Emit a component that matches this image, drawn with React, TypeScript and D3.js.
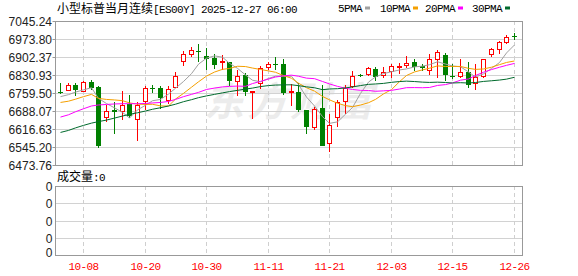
import React from "react";
import * as d3 from "d3";

const dates = [
  "10-03","10-06","10-07","10-08","10-09","10-10","10-13","10-14","10-15","10-16",
  "10-17","10-20","10-21","10-22","10-23","10-24","10-27","10-28","10-29","10-30",
  "10-31","11-03","11-04","11-05","11-06","11-07","11-10","11-11","11-12","11-13",
  "11-14","11-17","11-18","11-19","11-20","11-21","11-24","11-25","11-26","11-27",
  "11-28","12-01","12-02","12-03","12-04","12-05","12-08","12-09","12-10","12-11",
  "12-12","12-15","12-16","12-17","12-18","12-19","12-22","12-23","12-24","12-26",
];

const opens = [
  6764,6770,6790,6766,6802,6783,6663,6691,6687,6717,
  6658,6726,6781,6778,6732,6782,6885,6914,6928,6905,
  6900,6883,6881,6808,6831,6762,6798,6864,6874,6873,
  6763,6762,6692,6626,6700,6563,6663,6729,6787,6831,
  6834,6855,6831,6847,6863,6871,6884,6868,6851,6893,
  6910,6828,6828,6844,6799,6828,6914,6933,6961,6984,
];
const highs = [
  6798,6798,6800,6807,6811,6787,6712,6722,6767,6750,
  6722,6786,6790,6786,6787,6842,6926,6943,6953,6939,
  6916,6910,6884,6850,6840,6767,6866,6884,6901,6896,
  6795,6798,6692,6704,6791,6676,6733,6791,6847,6835,
  6864,6864,6861,6876,6878,6905,6896,6875,6913,6931,
  6917,6873,6894,6882,6874,6894,6938,6966,6990,6996,
];
const lows = [
  6755,6767,6749,6762,6771,6540,6643,6595,6654,6659,
  6570,6692,6761,6695,6715,6778,6868,6904,6884,6851,
  6853,6851,6787,6748,6748,6658,6775,6851,6851,6752,
  6708,6683,6595,6613,6550,6524,6626,6675,6780,6824,
  6827,6808,6818,6820,6835,6860,6847,6847,6830,6820,
  6808,6815,6820,6778,6773,6820,6902,6916,6955,6970,
];
const closes = [
  6761,6790,6770,6802,6779,6550,6687,6685,6712,6667,
  6711,6779,6775,6738,6774,6826,6913,6930,6926,6894,
  6871,6887,6808,6827,6762,6767,6857,6873,6872,6761,
  6766,6692,6626,6695,6550,6632,6722,6778,6828,6829,
  6857,6824,6844,6865,6865,6877,6864,6860,6893,6923,
  6832,6826,6844,6790,6823,6894,6934,6961,6980,6982,
];

const ma5 = [
  6745,6753,6763,6772,6780.4,6738.2,6717.6,6700.6,6682.6,6660.2,
  6692.4,6710.8,6728.8,6734,6755.4,6778.4,6805.2,6836.2,6873.8,6897.8,
  6906.8,6901.6,6877.2,6857.4,6831,6810.2,6804.2,6817.2,6826.2,6826,
  6825.8,6792.8,6743.4,6708,6665.8,6639,6645,6675.4,6702,6757.8,
  6802.8,6823.2,6836.4,6843.8,6851,6855,6863,6866.2,6871.8,6883.4,
  6874.4,6866.8,6863.6,6843,6823,6835.4,6857,6880.4,6918.4,6950.2,
];
const ma10 = [
  6722,6727,6735,6745,6754,6738,6734,6732,6729,6720.3,
  6715.3,6714.2,6714.7,6708.3,6707.8,6735.4,6758,6782.5,6803.9,6826.6,
  6842.6,6853.4,6856.7,6865.6,6864.4,6858.5,6852.9,6847.2,6841.8,6828.5,
  6818,6798.5,6780.3,6767.1,6745.9,6732.4,6718.9,6709.4,6705,6711.8,
  6720.9,6734.1,6755.9,6772.9,6804.4,6828.9,6843.1,6851.3,6857.8,6867.2,
  6864.7,6864.9,6864.9,6857.4,6853.2,6854.9,6861.9,6872,6880.7,6886.6,
];
const ma20 = [
  6664,6673,6685,6697,6708,6712,6714,6716,6717,6717,
  6717,6718,6720,6722,6726,6734,6745,6754,6762,6773.5,
  6779,6783.8,6785.7,6787,6786.1,6797,6805.5,6814.9,6822.9,6827.6,
  6830.3,6826,6818.5,6816.4,6805.2,6795.5,6785.9,6778.3,6773.4,6770.2,
  6769.5,6766.3,6768.1,6770,6775.2,6780.7,6781,6780.4,6781.4,6789.5,
  6792.8,6799.5,6810.4,6815.2,6828.8,6841.9,6852.5,6861.7,6869.3,6876.9,
];
const ma30 = [
  6603,6611,6621,6631,6640,6646,6652,6660,6668,6675,
  6681,6688,6695,6701,6708,6715,6725,6733,6741,6748,
  6754,6760,6765,6770,6775,6779,6785,6789,6791,6791.8,
  6792,6788.7,6783.9,6780.3,6772.7,6775.4,6776.6,6779.7,6783.6,6789,
  6793.8,6795.3,6797.6,6801.9,6804.9,6806.6,6805,6802.6,6801.5,6802.5,
  6801.2,6799.2,6800.4,6799.1,6801.2,6805.4,6808,6810.9,6814.5,6821.9,
];

const yTickLabels = ["7045.24","6973.80","6902.37","6830.93","6759.50","6688.07","6616.63","6545.20","6473.76"];
const xTickDates = ["10-08","10-20","10-30","11-11","11-21","12-03","12-15","12-26"];
const volTickLabels = ["0","0","0","0","0"];
const maNames = ["5PMA","10PMA","20PMA","30PMA"];
const maColors = ["#a0a0a0","#f5a000","#ff00ff","#006a2c"];

const RED = "#ff0000";
const GREEN = "#008000";
const MONO = "'Liberation Mono', 'DejaVu Sans Mono', monospace";
const CJK = "'Noto Sans CJK SC', sans-serif";
const SANS = "'Liberation Sans', Arial, sans-serif";

export default function App() {
  const L = 55.5, R = 522.5, T = 21, B = 165;
  const VT = 186, VB = 255;

  const y = d3.scaleLinear().domain([6473.76, 7045.24]).range([B, T]);
  const x = d3.scaleBand<string>().domain(dates).range([56.6, 518.3]).paddingInner(0.35).paddingOuter(0.175);
  const bw = x.bandwidth();
  const cx = (d: string) => Math.round((x(d) as number) + bw / 2 - 0.5);
  const yVol = d3.scaleLinear().domain([0, 4]).range([VT, VB]);
  const yTickVals = d3.range(yTickLabels.length).map((i) => d3.scaleLinear().domain([0, yTickLabels.length - 1]).range([7045.24, 6473.76])(i));

  const maSeries = [ma5, ma10, ma20, ma30];
  const line = d3.line<number>().x((_, i) => cx(dates[i]) + 0.5).y((v) => y(v));

  const gridYs = yTickVals.map((v) => Math.round(y(v)) + 0.5);
  const volGridYs = d3.range(5).map((i) => Math.round(yVol(i)) + 0.5);

  return (
    <svg width={578} height={276} style={{ position: "fixed", left: 0, top: 0, background: "#fff" }}>
      <rect x={0} y={0} width={578} height={276} fill="#fff" />
      {/* title */}
      <text x={57} y={12.5} fontSize={12} fill="#000">
        <tspan fontFamily={CJK}>小型标普当月连续</tspan>
        <tspan fontFamily={MONO} fontSize={11} letterSpacing={-0.6}>[ES00Y] 2025-12-27 06:00</tspan>
      </text>
      {/* legend */}
      {maNames.map((n, i) => {
        const xs = [338, 380, 425, 472][i];
        const w = n.length * 6;
        return (
          <g key={n}>
            <text x={xs} y={12} fontFamily={MONO} fontSize={11} letterSpacing={-0.6} fill="#000">{n}</text>
            <rect x={xs + w + 3} y={6.5} width={5} height={3} fill={maColors[i]} />
          </g>
        );
      })}

      {/* watermark */}
      <text x={290} y={116} textAnchor="middle" fontFamily={CJK} fontSize={40} fontWeight="bold" fontStyle="italic" letterSpacing={3} fill="#000" opacity={0.07}>东方财富</text>

      {/* main grid */}
      {gridYs.map((gy, i) => (
        <line key={"g" + i} x1={L} x2={R} y1={gy} y2={gy} stroke="#d2d2d2" />
      ))}
      {xTickDates.map((d) => (
        <line key={"v" + d} x1={cx(d) + 0.5} x2={cx(d) + 0.5} y1={T} y2={B} stroke="#cfcfcf" strokeDasharray="4,3" />
      ))}
      {/* y labels */}
      {yTickLabels.map((t, i) => (
        <g key={"yl" + i}>
          <line x1={52.5} x2={55} y1={gridYs[i]} y2={gridYs[i]} stroke="#999" />
          <text x={52} y={gridYs[i]} dy="0.35em" textAnchor="end" fontFamily={SANS} fontSize={12} fill="#222">{t}</text>
        </g>
      ))}

      {/* candles */}
      {dates.map((d, i) => {
        const c = cx(d);
        const o = opens[i], cl = closes[i], h = highs[i], l = lows[i];
        const up = cl >= o;
        const yTop = Math.round(y(Math.max(o, cl)));
        const yBot = Math.round(y(Math.min(o, cl)));
        const yh = Math.round(y(h));
        const yl = Math.round(y(l));
        if (up) {
          const bh = Math.max(yBot - yTop, 1);
          return (
            <g key={d}>
              <line x1={c + 0.5} x2={c + 0.5} y1={yh} y2={yTop} stroke={RED} />
              <line x1={c + 0.5} x2={c + 0.5} y1={yTop + bh} y2={yl} stroke={RED} />
              <rect x={c - 1.5} y={yTop + 0.5} width={4} height={bh} fill="#fff" stroke={RED} />
            </g>
          );
        }
        const bh = Math.max(yBot - yTop, 1);
        return (
          <g key={d}>
            <line x1={c + 0.5} x2={c + 0.5} y1={yh} y2={yl} stroke={GREEN} />
            <rect x={c - 2} y={yTop} width={5} height={bh} fill={GREEN} />
          </g>
        );
      })}

      {/* moving averages */}
      {maSeries.map((s, i) => (
        <path key={"ma" + i} d={line(s) || ""} fill="none" stroke={maColors[i]} strokeWidth={1} />
      ))}

      {/* main border */}
      <rect x={L} y={T + 0.5} width={R - L} height={B - T} fill="none" stroke="#999" />

      {/* volume panel */}
      <text x={57} y={181} fontSize={12} fill="#000">
        <tspan fontFamily={CJK}>成交量</tspan>
        <tspan fontFamily={MONO} fontSize={11} letterSpacing={-0.6}>:0</tspan>
      </text>
      {volGridYs.slice(1, 4).map((gy, i) => (
        <line key={"vg" + i} x1={L} x2={R} y1={gy} y2={gy} stroke="#d2d2d2" />
      ))}
      {xTickDates.map((d) => (
        <line key={"vv" + d} x1={cx(d) + 0.5} x2={cx(d) + 0.5} y1={VT} y2={VB} stroke="#cfcfcf" strokeDasharray="4,3" />
      ))}
      <rect x={L} y={VT + 0.5} width={R - L} height={VB - VT} fill="none" stroke="#999" />
      {volTickLabels.map((t, i) => (
        <text key={"vl" + i} x={52.5} y={i === 4 ? volGridYs[i] - 3 : volGridYs[i]} dy="0.35em" textAnchor="end" fontFamily={SANS} fontSize={12} fill="#222">{t}</text>
      ))}

      {/* x labels */}
      {xTickDates.map((d) => (
        <text key={"xl" + d} x={cx(d) + 0.5} y={270} textAnchor="middle" fontFamily={MONO} fontSize={11} letterSpacing={-0.6} fill={RED}>{d}</text>
      ))}
    </svg>
  );
}
